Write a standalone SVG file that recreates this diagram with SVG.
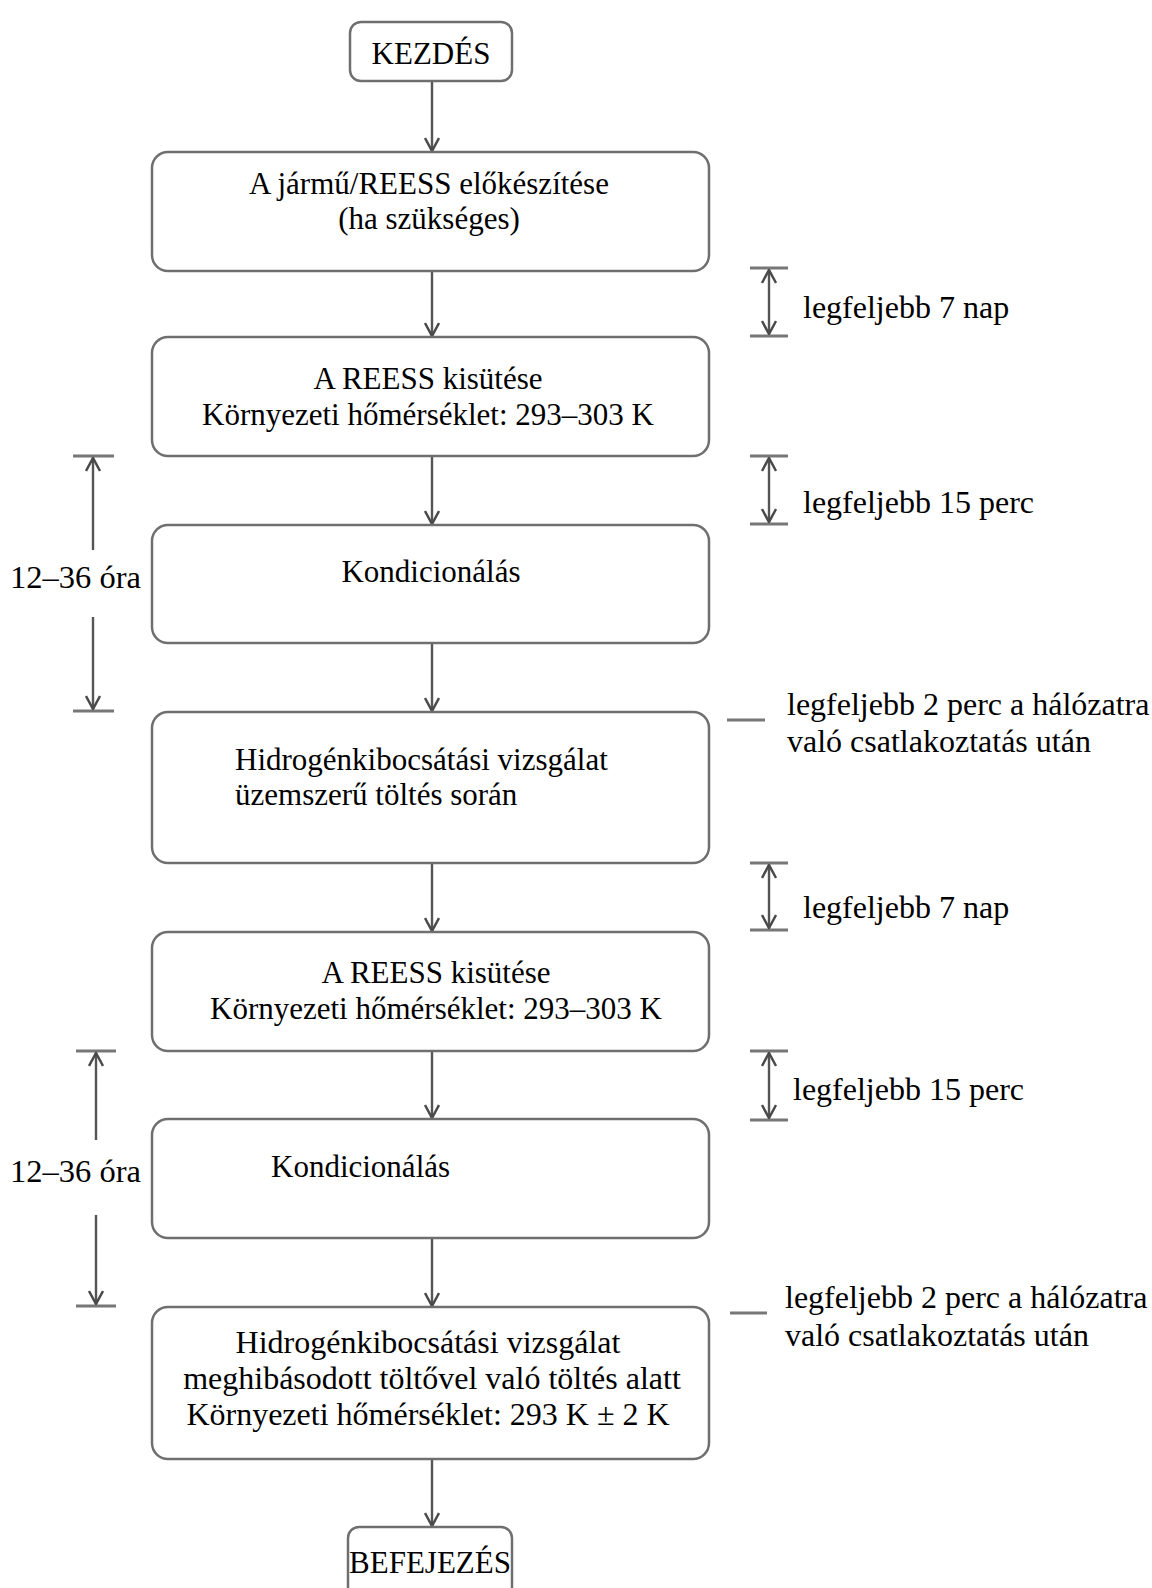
<svg xmlns="http://www.w3.org/2000/svg" width="1152" height="1588" viewBox="0 0 1152 1588">
<defs>
<marker id="ah" viewBox="0 0 16 16" refX="15" refY="8" markerWidth="16" markerHeight="16" markerUnits="userSpaceOnUse" orient="auto-start-reverse">
<path d="M2,1 L15,8 L2,15" fill="none" stroke="#4a4a4a" stroke-width="2.5"/>
</marker>
<style>
.box{fill:#fff;stroke:#6f6f6f;stroke-width:2.5}
.t{font-family:"Liberation Serif","Times New Roman",serif;font-size:31px;fill:#000}
.r{font-size:32px}
.l{font-size:32.5px}
.b{font-size:32px}
.c{text-anchor:middle}
.ln{stroke:#555;stroke-width:2.4;fill:none}
.tk{stroke:#777;stroke-width:3;fill:none}
</style>
</defs>
<rect width="1152" height="1588" fill="#fff"/>

<g id="connectors">
<line class="ln" x1="432" y1="81" x2="432" y2="151" marker-end="url(#ah)"/>
<line class="ln" x1="432" y1="271" x2="432" y2="336" marker-end="url(#ah)"/>
<line class="ln" x1="432" y1="456" x2="432" y2="524" marker-end="url(#ah)"/>
<line class="ln" x1="432" y1="643" x2="432" y2="711" marker-end="url(#ah)"/>
<line class="ln" x1="432" y1="863" x2="432" y2="931" marker-end="url(#ah)"/>
<line class="ln" x1="432" y1="1051" x2="432" y2="1118" marker-end="url(#ah)"/>
<line class="ln" x1="432" y1="1238" x2="432" y2="1306" marker-end="url(#ah)"/>
<line class="ln" x1="432" y1="1459" x2="432" y2="1526" marker-end="url(#ah)"/>
</g>

<g id="dim-right-1">
<line class="tk" x1="750" y1="268" x2="788" y2="268"/>
<line class="tk" x1="750" y1="336" x2="788" y2="336"/>
<line class="ln" x1="769" y1="270" x2="769" y2="334" marker-start="url(#ah)" marker-end="url(#ah)"/>
<text class="t r" x="803" y="318">legfeljebb 7 nap</text>
</g>
<g id="dim-right-2">
<line class="tk" x1="750" y1="456" x2="788" y2="456"/>
<line class="tk" x1="750" y1="524" x2="788" y2="524"/>
<line class="ln" x1="769" y1="458" x2="769" y2="522" marker-start="url(#ah)" marker-end="url(#ah)"/>
<text class="t r" x="803" y="513">legfeljebb 15 perc</text>
</g>
<g id="note-right-1">
<line class="tk" x1="727" y1="720" x2="765" y2="720"/>
<text class="t r" x="787" y="715">legfeljebb 2 perc a hálózatra</text>
<text class="t r" x="787" y="752">való csatlakoztatás után</text>
</g>
<g id="dim-right-3">
<line class="tk" x1="750" y1="863" x2="788" y2="863"/>
<line class="tk" x1="750" y1="930" x2="788" y2="930"/>
<line class="ln" x1="769" y1="865" x2="769" y2="928" marker-start="url(#ah)" marker-end="url(#ah)"/>
<text class="t r" x="803" y="918">legfeljebb 7 nap</text>
</g>
<g id="dim-right-4">
<line class="tk" x1="750" y1="1051" x2="788" y2="1051"/>
<line class="tk" x1="750" y1="1120" x2="788" y2="1120"/>
<line class="ln" x1="769" y1="1053" x2="769" y2="1118" marker-start="url(#ah)" marker-end="url(#ah)"/>
<text class="t r" x="793" y="1100">legfeljebb 15 perc</text>
</g>
<g id="note-right-2">
<line class="tk" x1="730" y1="1313" x2="767" y2="1313"/>
<text class="t r" x="785" y="1308">legfeljebb 2 perc a hálózatra</text>
<text class="t r" x="785" y="1346">való csatlakoztatás után</text>
</g>

<g id="dim-left-1">
<line class="tk" x1="73" y1="456" x2="114" y2="456"/>
<line class="tk" x1="73" y1="711" x2="114" y2="711"/>
<line class="ln" x1="93" y1="550" x2="93" y2="458" marker-end="url(#ah)"/>
<line class="ln" x1="93" y1="617" x2="93" y2="709" marker-end="url(#ah)"/>
<text class="t l" x="10" y="588">12–36 óra</text>
</g>
<g id="dim-left-2">
<line class="tk" x1="76" y1="1051" x2="116" y2="1051"/>
<line class="tk" x1="76" y1="1306" x2="116" y2="1306"/>
<line class="ln" x1="96" y1="1140" x2="96" y2="1053" marker-end="url(#ah)"/>
<line class="ln" x1="96" y1="1215" x2="96" y2="1304" marker-end="url(#ah)"/>
<text class="t l" x="10" y="1182">12–36 óra</text>
</g>

<g id="start">
<rect class="box" x="350" y="22" width="162" height="59" rx="11"/>
<text class="t c" x="431" y="64">KEZDÉS</text>
</g>
<g id="prep">
<rect class="box" x="152" y="152" width="557" height="119" rx="16"/>
<text class="t c" x="429" y="194">A jármű/REESS előkészítése</text>
<text class="t c" x="429" y="229">(ha szükséges)</text>
</g>
<g id="discharge-1">
<rect class="box" x="152" y="337" width="557" height="119" rx="16"/>
<text class="t c" x="428" y="389">A REESS kisütése</text>
<text class="t c" x="428" y="425">Környezeti hőmérséklet: 293–303 K</text>
</g>
<g id="soak-1">
<rect class="box" x="152" y="525" width="557" height="118" rx="16"/>
<text class="t c" x="431" y="582">Kondicionálás</text>
</g>
<g id="test-normal">
<rect class="box" x="152" y="712" width="557" height="151" rx="16"/>
<text class="t" x="235" y="770">Hidrogénkibocsátási vizsgálat</text>
<text class="t" x="235" y="805">üzemszerű töltés során</text>
</g>
<g id="discharge-2">
<rect class="box" x="152" y="932" width="557" height="119" rx="16"/>
<text class="t c" x="436" y="983">A REESS kisütése</text>
<text class="t c" x="436" y="1019">Környezeti hőmérséklet: 293–303 K</text>
</g>
<g id="soak-2">
<rect class="box" x="152" y="1119" width="557" height="119" rx="16"/>
<text class="t" x="271" y="1177">Kondicionálás</text>
</g>
<g id="test-faulty">
<rect class="box" x="152" y="1307" width="557" height="152" rx="16"/>
<text class="t b c" x="428" y="1353">Hidrogénkibocsátási vizsgálat</text>
<text class="t b c" x="432" y="1389">meghibásodott töltővel való töltés alatt</text>
<text class="t b c" x="428" y="1425">Környezeti hőmérséklet: 293 K ± 2 K</text>
</g>
<g id="end">
<rect class="box" x="348" y="1527" width="164" height="80" rx="11"/>
<text class="t c" x="430" y="1573">BEFEJEZÉS</text>
</g>
</svg>
